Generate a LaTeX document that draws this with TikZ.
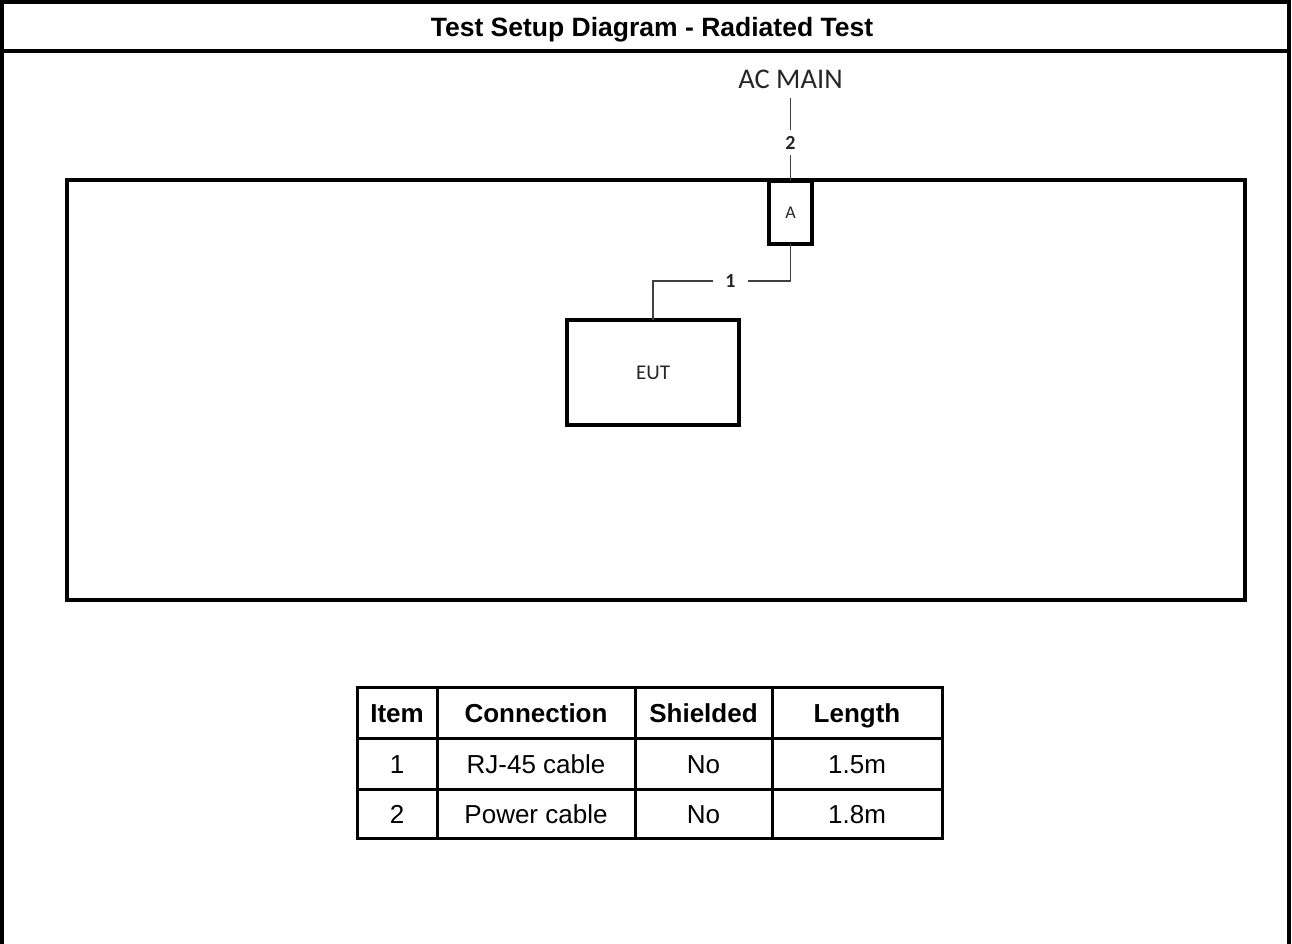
\documentclass[tikz,border=0pt]{standalone}
\usepackage{fontspec}
\setmainfont{Liberation Sans}
\newfontfamily\carlito{Carlito}
\begin{document}
\begin{tikzpicture}[x=1pt,y=-1pt,
  frame/.style={line width=4pt},
  room/.style={draw, line width=4pt, minimum width=1178pt, minimum height=420pt, inner sep=0pt, outer sep=0pt},
  unit/.style={draw, line width=3.5pt, inner sep=0pt, outer sep=0pt, text=black!85},
  cable/.style={line width=1.4pt, draw=black!75},
  cablelbl/.style={inner sep=0pt, outer sep=0pt, font=\carlito\bfseries\fontsize{20}{22}\selectfont, text=black!85},
  cell/.style={draw, line width=3pt, inner sep=0pt, outer sep=0pt, text height=19pt, text depth=0pt, font=\fontsize{26}{30}\selectfont},
  head/.style={cell, font=\bfseries\fontsize{26}{30}\selectfont}
]
\useasboundingbox (0,0) rectangle (1292,944);
% outer frame
\draw[frame] (2,944) -- (2,2) -- (1288.5,2) -- (1288.5,944);
\draw[frame] (2,51) -- (1288.5,51);
\node[font=\bfseries\fontsize{26.5}{30}\selectfont, anchor=base, inner sep=0pt] (title) at (652,37) {Test Setup Diagram - Radiated Test};

% room
\node[room] (room) at (655.5,390) {};
\node[unit, minimum width=43pt, minimum height=63pt, font=\carlito\fontsize{18}{20}\selectfont] (A) at (790.5,212.5) {A};
\node[unit, minimum width=172pt, minimum height=105pt, font=\carlito\fontsize{21}{24}\selectfont] (eut) at (653,372.5) {EUT};

% AC main
\node[font=\carlito\fontsize{28.5}{32}\selectfont, text=black!85, anchor=base, inner sep=0pt] (acmain) at (790.5,89) {AC MAIN};
\node[cablelbl, minimum height=25pt] (l2) at (790.5,143) {2};
\draw[cable] ([yshift=-9pt]acmain.south) -- (l2.north);
\draw[cable] (l2.south) -- (A.north);

\node[cablelbl, minimum width=35pt] (l1) at (730.5,281) {1};
\draw[cable] (A.south) |- (l1.east);
\draw[cable] (l1.west) -| (eut.north);

% table
\node[head, minimum width=80pt, minimum height=51pt] (h1) at (397,712.5) {Item};
\node[head, minimum width=198pt, minimum height=51pt] (h2) at (536,712.5) {Connection};
\node[head, minimum width=137pt, minimum height=51pt] (h3) at (703.5,712.5) {Shielded};
\node[head, minimum width=170pt, minimum height=51pt] (h4) at (857,712.5) {Length};
\node[cell, minimum width=80pt, minimum height=51pt] (a1) at (397,763.5) {1};
\node[cell, minimum width=198pt, minimum height=51pt] (a2) at (536,763.5) {RJ-45 cable};
\node[cell, minimum width=137pt, minimum height=51pt] (a3) at (703.5,763.5) {No};
\node[cell, minimum width=170pt, minimum height=51pt] (a4) at (857,763.5) {1.5m};
\node[cell, minimum width=80pt, minimum height=49pt] (b1) at (397,813.5) {2};
\node[cell, minimum width=198pt, minimum height=49pt] (b2) at (536,813.5) {Power cable};
\node[cell, minimum width=137pt, minimum height=49pt] (b3) at (703.5,813.5) {No};
\node[cell, minimum width=170pt, minimum height=49pt] (b4) at (857,813.5) {1.8m};
\end{tikzpicture}
\end{document}
